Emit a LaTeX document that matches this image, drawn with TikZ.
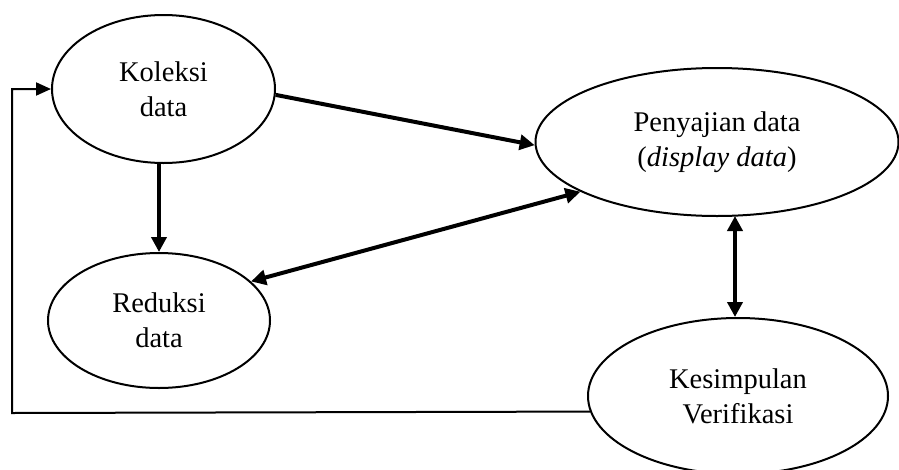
\documentclass[tikz,border=0pt]{standalone}
\usepackage{fontspec}
\setmainfont{Liberation Serif}
\usetikzlibrary{shapes.geometric,arrows.meta}
\begin{document}
\begin{tikzpicture}[x=1pt,y=-1pt,
  oval/.style={ellipse,draw,line width=2pt,inner sep=0pt,align=center,
    font=\fontsize{28.5}{35}\selectfont},
  tip/.style={Triangle[length=15pt,width=15pt]},
  thickarrow/.style={line width=4pt,-{Triangle[length=15pt,width=15pt]}},
  thickdouble/.style={line width=4pt,{Triangle[length=15pt,width=15pt]}-{Triangle[length=15pt,width=15pt]}},
  thinarrow/.style={line width=2pt,-{Triangle[length=15pt,width=13pt]}}]
\useasboundingbox (0,0) rectangle (899,469);
\node[oval,minimum width=223pt,minimum height=148pt] (kol) at (163.5,89) {Koleksi\\data};
\node[oval,minimum width=363pt,minimum height=148pt] (pen) at (717,142) {Penyajian data\\(\textit{display data})};
\node[oval,minimum width=222pt,minimum height=135pt] (red) at (159,320.5) {Reduksi\\data};
\node[oval,minimum width=300pt,minimum height=156pt] (kes) at (738,396) {Kesimpulan\\Verifikasi};
\coordinate (fb1) at (12,413);
\coordinate (fb2) at (12,89);
\coordinate (pk) at (735,216);
\draw[thickarrow] (kol.-3) -- (pen.181);
\draw[thickarrow] (red.north |- kol.south) -- (red.north);
\draw[thickdouble] (red.23) -- (pen.200);
\draw[thickdouble] (pk) -- (pk |- kes.north);
\draw[thinarrow] (kes.186) -- (fb1) -- (fb2) -- (kol.west);
\end{tikzpicture}
\end{document}
